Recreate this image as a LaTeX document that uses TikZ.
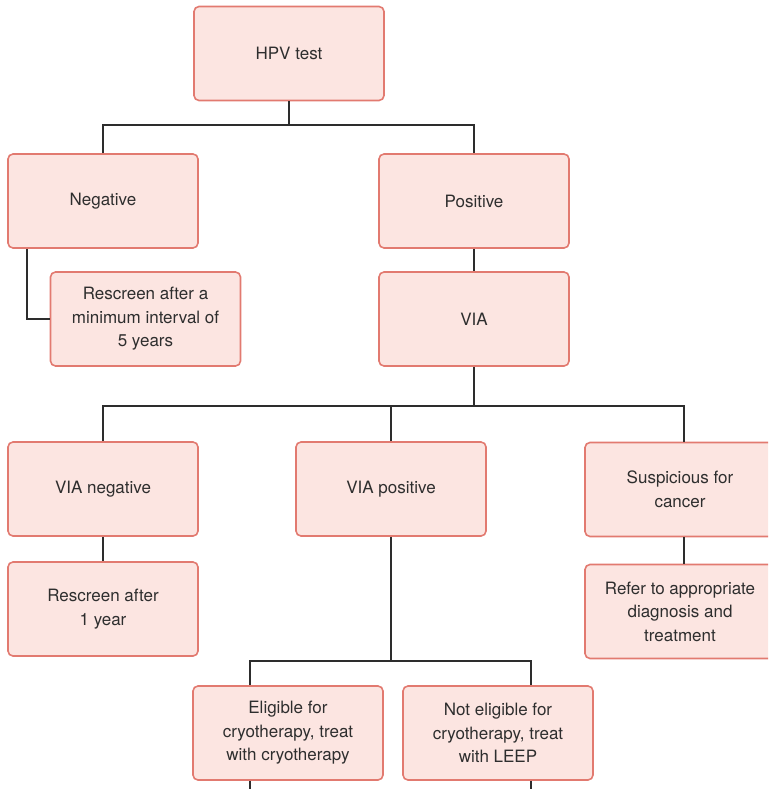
\documentclass[tikz,border=0pt]{standalone}
\usepackage{fontspec}
\setmainfont{TeX Gyre Heros}
\definecolor{boxfill}{RGB}{252,229,225}
\definecolor{boxline}{RGB}{226,122,112}
\definecolor{conn}{RGB}{45,45,45}
\begin{document}
\begin{tikzpicture}[x=1pt,y=-1pt,
  box/.style={draw=boxline,fill=boxfill,line width=1.6pt,rounded corners=5pt,
    minimum width=190pt,minimum height=94pt,inner sep=0pt,align=center,
    text=black!82,font=\fontsize{17}{23.5}\selectfont},
  link/.style={draw=conn,line width=1.8pt}]
\useasboundingbox (0,0) rectangle (768,789);
\clip (0,0) rectangle (768,789);
\node[box] (hpv) at (289,53.5) {HPV test};
\node[box] (neg) at (103,201) {Negative};
\node[box] (pos) at (474,201) {Positive};
\node[box] (r5) at (145.5,319) {Rescreen after a\\minimum interval of\\5 years};
\node[box] (via) at (474,319) {VIA};
\node[box] (vian) at (103,489) {VIA negative};
\node[box] (viap) at (391,489) {VIA positive};
\node[box] (susp) at (680,489.5) {Suspicious for\\cancer};
\node[box] (r1) at (103,609) {Rescreen after\\1 year};
\node[box] (ref) at (680,611.5) {Refer to appropriate\\diagnosis and\\treatment};
\node[box] (elig) at (288,733) {Eligible for\\cryotherapy, treat\\with cryotherapy};
\node[box] (nelig) at (498,733) {Not eligible for\\cryotherapy, treat\\with LEEP};
\coordinate (j1) at (289,125);
\coordinate (j2) at (474,406);
\coordinate (j3) at (391,661);
\draw[link] (hpv.south) -- (j1);
\draw[link] (neg.north) |- (j1) -| (pos.north);
\draw[link] ([xshift=20pt]neg.south west) |- (r5.west);
\draw[link] (pos.south) -- (via.north);
\draw[link] (via.south) -- (j2);
\draw[link] (vian.north) |- (j2) -| ([xshift=4pt]susp.north);
\draw[link] (viap.north) -- (viap.north |- j2);
\draw[link] (vian.south) -- (r1.north);
\draw[link] ([xshift=4pt]susp.south) -- ([xshift=4pt]ref.north);
\draw[link] (viap.south) -- (j3);
\draw[link] ([xshift=-38pt]elig.north) |- (j3) -| ([xshift=33pt]nelig.north);
\draw[link] ([xshift=-38pt]elig.south) -- ++(0,15);
\draw[link] ([xshift=33pt]nelig.south) -- ++(0,15);
\end{tikzpicture}
\end{document}
